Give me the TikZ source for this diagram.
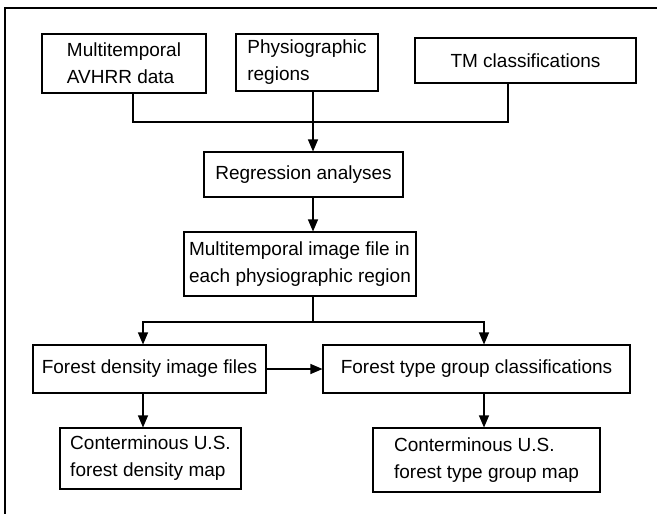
\documentclass[tikz,border=0pt]{standalone}
\usepackage{fontspec}
\setmainfont{Liberation Sans}
\usetikzlibrary{arrows.meta}

\begin{document}
\begin{tikzpicture}[x=1pt,y=-1pt,
    box/.style={draw, line width=1.1pt, inner sep=0pt, align=left,
        font=\fontsize{19}{27}\selectfont},
    arr/.style={-{Triangle[length=12pt,width=10pt]}},
    line width=1.1pt]
    \useasboundingbox (0,0) rectangle (657,514);
    % frame
    \draw (5,514) -- (5,8) -- (657,8);

    % inputs
    \node[box, minimum width=164, minimum height=59] (avhrr)  at (124,63.5) {Multitemporal\\AVHRR data};
    \node[box, minimum width=142, minimum height=57] (physio) at (307,62.5) {Physiographic\\regions};
    \node[box, minimum width=221, minimum height=45] (tmcls)  at (525.5,60.5) {TM classifications};

    \node[box, minimum width=199, minimum height=45] (regr)  at (303.5,174.5) {Regression analyses};
    \node[box, minimum width=232, minimum height=64] (multi) at (300,264) {Multitemporal image file in\\each physiographic region};

    % outputs
    \node[box, minimum width=233, minimum height=48] (dens)  at (149.5,369) {Forest density image files};
    \node[box, minimum width=307, minimum height=48] (ftype) at (476.5,369) {Forest type group classifications};
    \node[box, minimum width=181, minimum height=61] (cdens) at (150.5,458.5) {Conterminous U.S.\\forest density map};
    \node[box, minimum width=227, minimum height=64] (ctype) at (486.5,460) {Conterminous U.S.\\forest type group map};

    % columns of the connectors
    \coordinate (join)  at (313,122);
    \coordinate (split) at (313,322);
    \coordinate (acol)  at (133,0);
    \coordinate (ccol)  at (508,0);
    \coordinate (lcol)  at (143,0);
    \coordinate (rcol)  at (484,0);

    \draw (avhrr.south -| acol) |- (join) -| (tmcls.south -| ccol);
    \draw[arr] (physio.south -| join) -- (regr.north -| join);
    \draw[arr] (regr.south -| join) -- (multi.north -| join);
    \draw (multi.south -| split) -- (split);
    \draw[arr] (split) -| (dens.north -| lcol);
    \draw[arr] (split) -| (ftype.north -| rcol);
    \draw[arr] (dens.east) -- (dens.east -| ftype.west);
    \draw[arr] (dens.south -| lcol) -- (cdens.north -| lcol);
    \draw[arr] (ftype.south -| rcol) -- (ctype.north -| rcol);
\end{tikzpicture}
\end{document}
